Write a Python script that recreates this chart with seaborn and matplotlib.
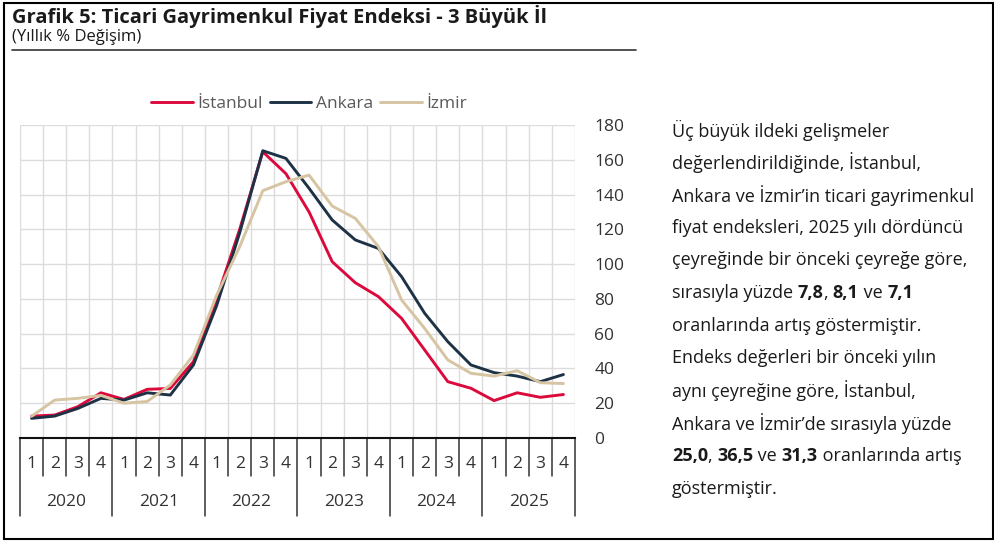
import numpy as np
import pandas as pd
import seaborn as sns
import matplotlib.pyplot as plt
import matplotlib.transforms as mtransforms
from matplotlib.lines import Line2D
from matplotlib.patches import Rectangle

# Veriler (yıllık % değişim, çeyreklik)
years = ['2020', '2021', '2022', '2023', '2024', '2025']
quarters = ['1', '2', '3', '4']
istanbul = [12.6, 13.2, 18.0, 26.0, 22.2, 28.0, 28.5, 43.9, 80.0, 120.0, 164.6, 152.0,
            130.0, 101.4, 89.3, 81.3, 68.8, 50.6, 32.4, 28.6, 21.5, 26.0, 23.4, 25.0]
ankara = [11.3, 12.6, 17.0, 22.8, 21.8, 26.0, 24.7, 42.0, 76.0, 118.0, 165.2, 160.8,
          143.6, 125.4, 113.9, 109.0, 92.8, 71.7, 55.4, 42.0, 37.6, 35.6, 32.4, 36.5]
izmir = [12.5, 21.8, 22.8, 24.5, 20.0, 21.0, 30.5, 47.7, 82.0, 110.0, 142.2, 147.4,
         151.2, 133.4, 126.3, 110.0, 79.4, 63.0, 44.9, 37.2, 35.6, 38.7, 31.8, 31.3]
cities = ['İstanbul', 'Ankara', 'İzmir']
colors = ['#dc0a3c', '#1e3246', '#d6c4a2']

title = 'Grafik 5: Ticari Gayrimenkul Fiyat Endeksi - 3 Büyük İl'
subtitle = '(Yıllık % Değişim)'
body = [
    [('Üç büyük ildeki gelişmeler', False)],
    [('değerlendirildiğinde, İstanbul,', False)],
    [('Ankara ve İzmir’in ticari gayrimenkul', False)],
    [('fiyat endeksleri, 2025 yılı dördüncü', False)],
    [('çeyreğinde bir önceki çeyreğe göre,', False)],
    [('sırasıyla yüzde ', False), ('7,8', True), (', ', False), ('8,1', True),
     (' ve ', False), ('7,1', True)],
    [('oranlarında artış göstermiştir.', False)],
    [('Endeks değerleri bir önceki yılın', False)],
    [('aynı çeyreğine göre, İstanbul,', False)],
    [('Ankara ve İzmir’de sırasıyla yüzde', False)],
    [('25,0', True), (', ', False), ('36,5', True), (' ve ', False), ('31,3', True),
     (' oranlarında artış', False)],
    [('göstermiştir.', False)],
]

labels = [f'{y}-{q}' for y in years for q in quarters]
df = pd.DataFrame({'t': np.arange(len(labels)), 'İstanbul': istanbul,
                   'Ankara': ankara, 'İzmir': izmir})
df = df.melt(id_vars='t', var_name='il', value_name='deger')

sns.set_style('white')
plt.rcParams['font.family'] = ['Open Sans', 'DejaVu Sans']

W, H = 995, 542
fig = plt.figure(figsize=(W / 100, H / 100), dpi=100)
ax = fig.add_axes([20 / W, (H - 438) / H, 555 / W, 313 / H])

sns.lineplot(data=df, x='t', y='deger', hue='il', hue_order=cities,
             palette=colors, linewidth=2.1, ax=ax)

ax.set_xlim(-0.5, len(labels) - 0.5)
ax.set_ylim(0, 180)
ax.set_yticks(np.arange(0, 181, 20))
ax.yaxis.tick_right()
ax.tick_params(axis='y', length=0, pad=14, labelsize=12.5, labelcolor='#333333')
ax.set_xticks([])
ax.set_xticks(np.arange(-0.5, len(labels), 1), minor=True)
ax.tick_params(axis='x', which='both', length=0)
ax.grid(which='major', axis='y', color='#dcdcdc', lw=1)
ax.grid(which='minor', axis='x', color='#dcdcdc', lw=1)
ax.set_xlabel('')
ax.set_ylabel('')
for s in ['top', 'left', 'right']:
    ax.spines[s].set_visible(False)
ax.spines['bottom'].set_color('#111111')
ax.spines['bottom'].set_linewidth(1.5)

# çok seviyeli x ekseni
tr = mtransforms.blended_transform_factory(ax.transData, ax.transAxes)
for i, lab in enumerate(labels):
    ax.text(i, -0.083, lab.split('-')[1], transform=tr, ha='center', va='center',
            fontsize=12.5, color='#333333')
for i in range(len(labels) + 1):
    low = -0.249 if i % 4 == 0 else -0.123
    ax.add_line(Line2D([i - 0.5, i - 0.5], [0, low], transform=tr, color='#333333',
                       lw=1.1, clip_on=False))
for j, y in enumerate(years):
    ax.text(j * 4 + 1.5, -0.206, y, transform=tr, ha='center', va='center',
            fontsize=12.5, color='#333333')

handles = [Line2D([], [], color=c, lw=2.1) for c in colors]
fig.legend(handles, cities, loc='center', bbox_to_anchor=(309 / W, 1 - 104 / H),
           ncol=3, frameon=False, fontsize=12.5, handlelength=2.4, handletextpad=0.25,
           columnspacing=0.4, labelcolor='#595959')
if ax.get_legend() is not None:
    ax.get_legend().remove()

# başlıklar
fig.text(12 / W, 1 - 17 / H, title, fontsize=14.5, fontweight='bold', color='#1a1a1a',
         va='center', ha='left')
fig.text(12 / W, 1 - 37 / H, subtitle, fontsize=12, color='#1a1a1a', va='center',
         ha='left')
fig.add_artist(Line2D([12 / W, 636 / W], [1 - 50 / H, 1 - 50 / H], color='#333333',
                      lw=1.2))

# sağdaki açıklama metni
renderer = fig.canvas.get_renderer()
for k, line in enumerate(body):
    x = 672
    y = 130 + k * 32.6
    for txt, bold in line:
        t = fig.text(x / W, 1 - y / H, txt, fontsize=13, color='#1a1a1a', va='center',
                     ha='left', fontweight='bold' if bold else 'normal')
        x = t.get_window_extent(renderer).x1

fig.add_artist(Rectangle((4 / W, 3 / H), 989 / W, 536 / H, fill=False,
                         edgecolor='black', lw=1.5))

fig.savefig('out.png', dpi=100)
